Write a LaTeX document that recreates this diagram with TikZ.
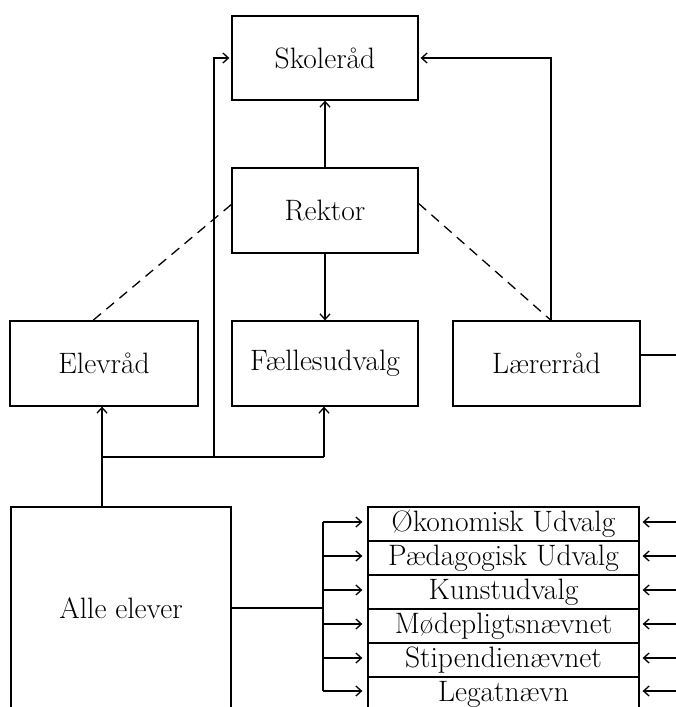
\documentclass[tikz,border=0pt]{standalone}
\usepackage{fontspec}
\usetikzlibrary{arrows.meta}
\begin{document}
\begin{tikzpicture}[x=1pt,y=-1pt,
  box/.style={draw,line width=1.3pt,inner sep=0pt,font=\fontsize{29.5}{33}\selectfont},
  bigbox/.style={box,minimum width=186pt,minimum height=85pt},
  row/.style={box,minimum width=271pt,minimum height=34pt},
  conn/.style={line width=1.3pt},
  arr/.style={conn,-{Straight Barb[length=5.5pt,width=10pt,line width=1.3pt]}},
  dashline/.style={conn,dash pattern=on 10pt off 7pt}]
\useasboundingbox (0,0) rectangle (676,707);
\clip (0,0) rectangle (676,707);
\node[bigbox,minimum height=84pt] (skole) at (325,58) {Skoleråd};
\node[bigbox] (rektor) at (325,210.5) {Rektor};
\node[bigbox,minimum width=188pt] (elev) at (104,363.5) {Elevråd};
\node[bigbox] (faelles) at (325,363.5) {Fællesudvalg};
\node[bigbox,minimum width=187pt] (laerer) at (546.5,363.5) {Lærerråd};
\node[box,minimum width=220pt,minimum height=203pt] (alle) at (121,608.5) {Alle elever};
\node[row] (l1) at (503.5,524) {Økonomisk Udvalg};
\node[row] (l2) at (503.5,558) {Pædagogisk Udvalg};
\node[row] (l3) at (503.5,592) {Kunstudvalg};
\node[row] (l4) at (503.5,626) {Mødepligtsnævnet};
\node[row] (l5) at (503.5,660) {Stipendienævnet};
\node[row] (l6) at (503.5,694) {Legatnævn};
% connectors
\draw[arr] (rektor.north) -- (skole.south);
\draw[arr] (rektor.south) -- (faelles.north);
\draw[arr] ([xshift=4.5pt]laerer.north) |- ([xshift=2pt]skole.east);
\draw[dashline] ([yshift=6pt]rektor.west) -- ([xshift=-11pt]elev.north);
\draw[dashline] ([yshift=7pt]rektor.east) -- ([xshift=4.5pt]laerer.north);
\coordinate (jl) at (102,457);
\coordinate (jm) at (214,457);
\coordinate (jr) at (324,457);
\draw[conn] (alle.north -| jl) -- (jl) -- (jr);
\draw[arr] (jl) -- (jl |- elev.south);
\draw[arr] (jr) -- (jr |- faelles.south);
\draw[arr] (jm) |- ([xshift=-2pt]skole.west);
\coordinate (re) at (690,355);
\draw[conn] (laerer.east |- re) -- (re);
% bracket to list
\coordinate (bx) at (323,608);
\draw[conn] (alle.east |- bx) -- (bx);
\draw[conn] ([yshift=2pt]l1.west -| bx) -- ([yshift=3pt]l6.west -| bx);
\coordinate (rx) at (690,600);
\foreach \n in {l1,l2,l3,l4,l5}{
  \draw[arr] ([yshift=2pt]\n.west -| bx) -- ([xshift=-5pt,yshift=2pt]\n.west);
  \draw[arr] ([yshift=2pt]\n.east -| rx) -- ([xshift=3pt,yshift=2pt]\n.east);
}
\draw[arr] ([yshift=3pt]l6.west -| bx) -- ([xshift=-5pt,yshift=3pt]l6.west);
\draw[arr] ([yshift=3pt]l6.east -| rx) -- ([xshift=3pt,yshift=3pt]l6.east);
\end{tikzpicture}
\end{document}
